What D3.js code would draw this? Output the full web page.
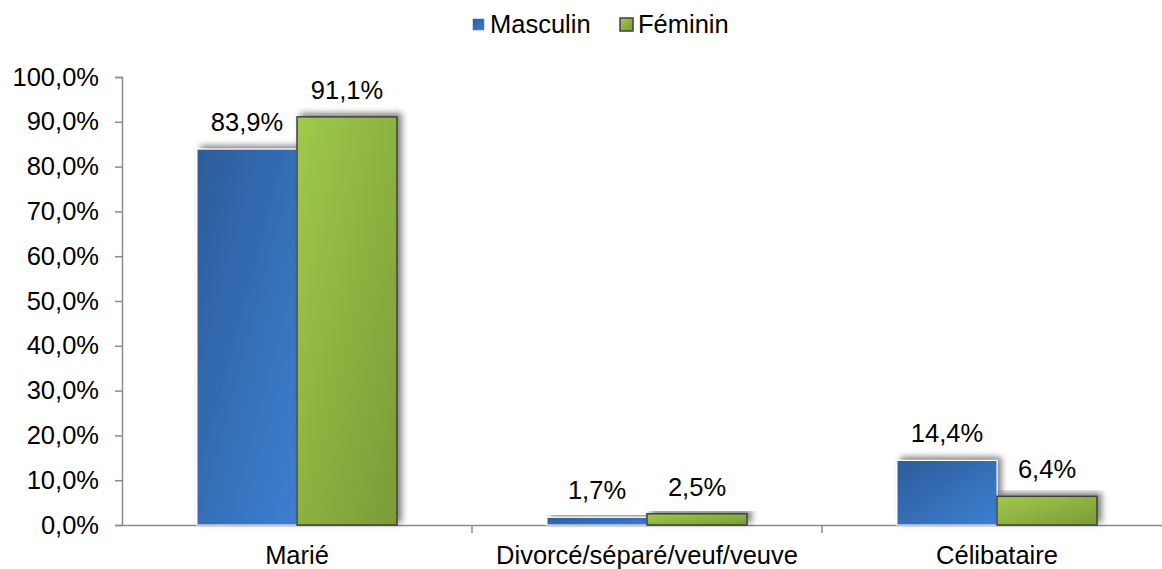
<!DOCTYPE html>
<html>
<head>
<meta charset="utf-8">
<script src="https://cdn.jsdelivr.net/npm/d3@7"></script>
<style>
  body { margin: 0; background: #fff; }
  text { font-family: "Liberation Sans", Arial, sans-serif; fill: #000; }
</style>
</head>
<body>
<script>
// data
const categories = ["Marié", "Divorcé/séparé/veuf/veuve", "Célibataire"];
const series = ["Masculin", "Féminin"];
const masculin = [0.839, 0.017, 0.144];
const feminin = [0.911, 0.025, 0.064];
const yTicks = [0, 0.1, 0.2, 0.3, 0.4, 0.5, 0.6, 0.7, 0.8, 0.9, 1.0];

const width = 1162, height = 569;
const fontSize = 25.5;

const fr = d3.formatLocale({ decimal: ",", thousands: " ", grouping: [3], currency: ["", " €"] });
const fmtTick = fr.format(".1%");
const fmtVal = fr.format(".1%");

const svg = d3.select("body").append("svg")
  .attr("width", width)
  .attr("height", height);

const defs = svg.append("defs");

const gBlue = defs.append("linearGradient").attr("id", "gBlue")
  .attr("x1", 0).attr("y1", 0).attr("x2", 1).attr("y2", 1);
gBlue.append("stop").attr("offset", "0%").attr("stop-color", "#2c5c9a");
gBlue.append("stop").attr("offset", "100%").attr("stop-color", "#3d7fd1");

const gGreen = defs.append("linearGradient").attr("id", "gGreen")
  .attr("x1", 0).attr("y1", 0).attr("x2", 1).attr("y2", 1);
gGreen.append("stop").attr("offset", "0%").attr("stop-color", "#9fca4b");
gGreen.append("stop").attr("offset", "100%").attr("stop-color", "#7a9b37");

const shadow = defs.append("filter").attr("id", "shadow")
  .attr("x", "-20%").attr("y", "-20%").attr("width", "150%").attr("height", "150%");
shadow.append("feDropShadow")
  .attr("dx", 4).attr("dy", -3)
  .attr("stdDeviation", 3)
  .attr("flood-color", "#000")
  .attr("flood-opacity", 0.5);

// scales
const x0 = d3.scaleBand().domain(categories).range([122, 1172]).padding(0);
const x1 = d3.scaleBand().domain(series).range([75, 275]).padding(0);
const y = d3.scaleLinear().domain([0, 1]).range([525, 77]);

const fills = { "Masculin": "url(#gBlue)", "Féminin": "url(#gGreen)" };
const strokes = { "Masculin": "#ffffff", "Féminin": "#404040" };

// axes
const yAxis = svg.append("g")
  .attr("transform", "translate(122,0)")
  .call(d3.axisLeft(y).tickValues(yTicks).tickFormat(fmtTick).tickSize(7).tickPadding(16));
yAxis.select(".domain").attr("stroke", "#8c8c8c").attr("stroke-width", 1.5);
yAxis.selectAll(".tick line").attr("stroke", "#8c8c8c").attr("stroke-width", 1.5);
yAxis.selectAll(".tick text")
  .style("font-size", fontSize + "px")
  .attr("font-family", null);

const xAxis = svg.append("g")
  .attr("transform", "translate(0,525)")
  .call(d3.axisBottom(x0).tickSize(0).tickPadding(21).tickSizeOuter(0));
xAxis.select(".domain").attr("stroke", "#8c8c8c").attr("stroke-width", 1.5);
xAxis.selectAll(".tick text")
  .style("font-size", fontSize + "px")
  .attr("font-family", null);

// category separators on x axis
svg.append("g").selectAll("line")
  .data(categories.slice(1))
  .join("line")
  .attr("x1", d => x0(d)).attr("x2", d => x0(d))
  .attr("y1", 525).attr("y2", 533)
  .attr("stroke", "#8c8c8c").attr("stroke-width", 1.5);

// bars
const rows = categories.map((c, i) => ({ cat: c, values: [
  { s: "Masculin", v: masculin[i] },
  { s: "Féminin", v: feminin[i] }
]}));

const groups = svg.append("g").selectAll("g")
  .data(rows)
  .join("g")
  .attr("transform", d => `translate(${x0(d.cat)},0)`);

groups.selectAll("rect")
  .data(d => d.values)
  .join("rect")
  .attr("x", d => x1(d.s))
  .attr("y", d => y(d.v))
  .attr("width", x1.bandwidth())
  .attr("height", d => y(0) - y(d.v))
  .attr("fill", d => fills[d.s])
  .attr("stroke", d => strokes[d.s])
  .attr("stroke-width", d => d.s === "Féminin" ? 1.5 : 1)
  .attr("filter", "url(#shadow)");

groups.selectAll("text.val")
  .data(d => d.values)
  .join("text")
  .attr("class", "val")
  .attr("x", d => x1(d.s) + x1.bandwidth() / 2)
  .attr("y", d => y(d.v) - 18)
  .attr("text-anchor", "middle")
  .style("font-size", fontSize + "px")
  .text(d => fmtVal(d.v));

// legend
const legend = svg.append("g");
const legendItems = [
  { s: "Masculin", x: 472 },
  { s: "Féminin", x: 620 }
];
legend.selectAll("rect")
  .data(legendItems)
  .join("rect")
  .attr("x", d => d.x)
  .attr("y", 18)
  .attr("width", 13)
  .attr("height", 13)
  .attr("fill", d => fills[d.s])
  .attr("stroke", d => strokes[d.s])
  .attr("stroke-width", 1.5);
legend.selectAll("text")
  .data(legendItems)
  .join("text")
  .attr("x", d => d.x + 18)
  .attr("y", 33)
  .style("font-size", fontSize + "px")
  .text(d => d.s);
</script>
</body>
</html>
